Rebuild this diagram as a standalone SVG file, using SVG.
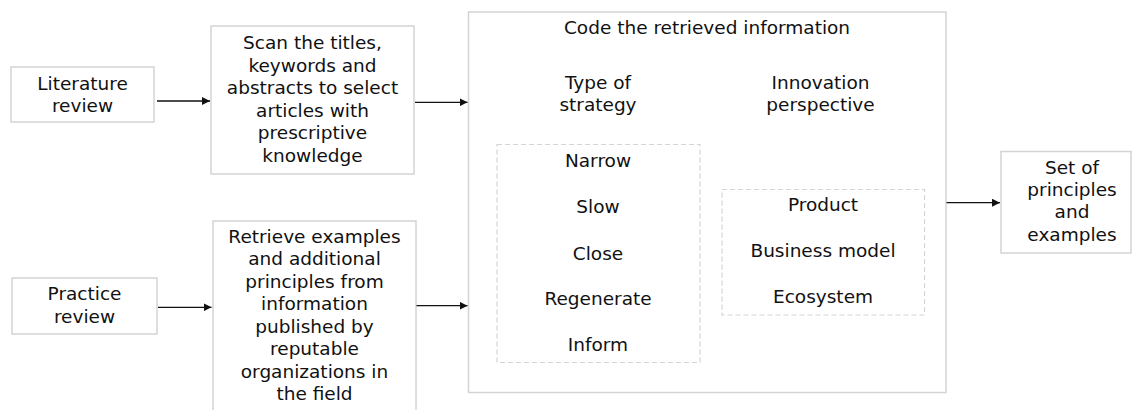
<svg xmlns="http://www.w3.org/2000/svg" width="1132" height="410" viewBox="0 0 1132 410">
<style>
.box{fill:#fff;stroke:#d4d4d4;stroke-width:1.5}
.dash{fill:none;stroke:#d4d4d4;stroke-width:1.2;stroke-dasharray:5 3}
text{font-family:"DejaVu Sans","Liberation Sans",sans-serif;font-size:18.5px;fill:#111;text-anchor:middle}
.conn line{stroke:#111;stroke-width:1.3;marker-end:url(#arr)}
</style>
<defs>
<marker id="arr" viewBox="0 0 10 10" refX="10" refY="5" markerWidth="8" markerHeight="8" markerUnits="userSpaceOnUse" orient="auto">
<path d="M0,0 L10,5 L0,10 z" fill="#111"/>
</marker>
</defs>
<rect width="1132" height="410" fill="#fff"/>
<g id="literature">
<rect class="box" x="11" y="67" width="143" height="55"/>
<text x="82.5" y="89.5">Literature</text>
<text x="82.5" y="112">review</text>
</g>
<g id="practice">
<rect class="box" x="12" y="278" width="145" height="56"/>
<text x="84.5" y="300">Practice</text>
<text x="84.5" y="322.5">review</text>
</g>
<g id="scan">
<rect class="box" x="211" y="26" width="203" height="148"/>
<text x="312.5" y="49.3">Scan the titles,</text>
<text x="312.5" y="71.7">keywords and</text>
<text x="312.5" y="94">abstracts to select</text>
<text x="312.5" y="116.5">articles with</text>
<text x="312.5" y="139">prescriptive</text>
<text x="312.5" y="161.5">knowledge</text>
</g>
<g id="retrieve">
<rect class="box" x="213" y="221" width="203" height="210"/>
<text x="314.5" y="242.7">Retrieve examples</text>
<text x="314.5" y="265">and additional</text>
<text x="314.5" y="287.5">principles from</text>
<text x="314.5" y="310">information</text>
<text x="314.5" y="332.5">published by</text>
<text x="314.5" y="355">reputable</text>
<text x="314.5" y="377.5">organizations in</text>
<text x="314.5" y="400">the field</text>
</g>
<g id="code">
<rect class="box" x="468.5" y="12" width="477.5" height="380.5"/>
<text x="707" y="34.3">Code the retrieved information</text>
<text x="598" y="89.3">Type of</text>
<text x="598" y="110.8">strategy</text>
<text x="820.5" y="89.3">Innovation</text>
<text x="820.5" y="110.8">perspective</text>
</g>
<g id="strategies">
<rect class="dash" x="497" y="144.5" width="203" height="218"/>
<text x="598" y="166.7">Narrow</text>
<text x="598" y="213.3">Slow</text>
<text x="598" y="259.5">Close</text>
<text x="598" y="305">Regenerate</text>
<text x="598" y="351">Inform</text>
</g>
<g id="perspectives">
<rect class="dash" x="722" y="189.5" width="202.5" height="125.5"/>
<text x="823" y="211">Product</text>
<text x="823" y="257.3">Business model</text>
<text x="823" y="303.3">Ecosystem</text>
</g>
<g id="output">
<rect class="box" x="1001" y="151.5" width="130" height="101.5"/>
<text x="1072" y="173.5">Set of</text>
<text x="1072" y="196">principles</text>
<text x="1072" y="218.3">and</text>
<text x="1072" y="240.7">examples</text>
</g>
<g class="conn" id="connectors">
<line x1="157" y1="101" x2="210" y2="101"/>
<line x1="158" y1="307.3" x2="211.5" y2="307.3"/>
<line x1="415" y1="102.3" x2="467.5" y2="102.3"/>
<line x1="416.5" y1="305.7" x2="467.5" y2="305.7"/>
<line x1="946.5" y1="202.7" x2="1000" y2="202.7"/>
</g>
</svg>
